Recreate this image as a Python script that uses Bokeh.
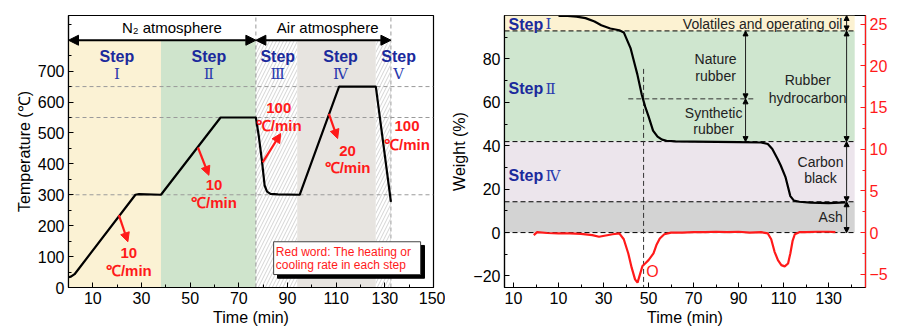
import math
from bokeh.plotting import figure
from bokeh.models import Range1d, LinearAxis, FixedTicker, Label, Arrow, NormalHead
from bokeh.layouts import row
from bokeh.embed import file_html
from bokeh.resources import INLINE

SANS = "Liberation Sans"
SERIF = "DejaVu Serif"
NAVY = "#1b2a9c"
RED = "#ff1a1a"

# ---------------- Panel (a) data ----------------
temp_time = [0, 1, 2.5, 27.5, 29, 38, 62.5, 77, 78.2, 79.5, 80.6, 81.6, 83, 86, 95, 111.2, 126.3, 132.5]
temp_val = [33, 35, 43, 300, 302, 300, 550, 550, 490, 410, 330, 310, 303, 301, 300, 650, 650, 277]
step_numerals = ["Ⅰ", "Ⅱ", "Ⅲ", "Ⅳ", "Ⅴ"]
step_edges = [0, 38, 77, 94, 126.3, 132.5]
rate_values = ["10", "10", "100", "20", "100"]
a_xticks = [10, 30, 50, 70, 90, 110, 130, 150]
a_xminor = [0, 20, 40, 60, 80, 100, 120, 140]
a_yticks = [0, 100, 200, 300, 400, 500, 600, 700]
a_yminor = [50, 150, 250, 350, 450, 550, 650, 750, 850]
a_levels = [300, 550, 650]
a_phase_bounds = [77, 132.5]

# ---------------- Panel (b) data ----------------
w_time = [10, 14, 18, 22, 26, 29, 33, 37, 39, 42, 44, 45, 47, 48.5, 50, 52, 54, 56, 58, 62, 70, 80, 90,
          100, 103, 105, 107.3, 108.7, 110.9, 113, 114.6, 117, 122, 130, 137.5]
w_val = [99.8, 99.8, 99.5, 98.8, 97.2, 95.5, 94, 93.2, 92.2, 85, 77, 73, 63.5, 58, 53.5, 47, 44.2, 42.8, 42.3,
         42.0, 41.9, 41.8, 41.7, 41.5, 40.8, 38.5, 34, 31, 25.4, 16.8, 14.7, 14.2, 13.8, 13.6, 13.9]
d_time = [-1, 0.5, 5, 10, 15, 20, 25, 28, 31, 34, 37, 39, 41, 42.5, 44, 45.1, 46.2, 47.3, 48.5, 50, 52.2,
          53.5, 55, 57, 60, 65, 70, 75, 80, 85, 90, 95, 100, 103, 104.5, 106, 107.5, 109, 110.5, 112,
          113, 114, 115, 117, 120, 125, 130, 133]
d_val = [-0.3, 0.05, -0.05, -0.1, -0.1, -0.15, -0.3, -0.5, -0.35, -0.2, -0.1, -0.8, -2.5, -4.2, -5.6, -6.0,
         -5.0, -4.0, -3.7, -3.3, -2.5, -1.5, -0.7, -0.2, 0, 0, 0.05, 0.05, 0.1, 0.05, 0.1, 0.0, 0.05, -0.1,
         -0.8, -2.3, -3.3, -3.9, -4.05, -3.7, -2.5, -1.0, -0.2, 0.05, 0.05, 0.1, 0.1, 0.05]
b_levels = [100, 92.9, 41.9, 14.2, 0]
b_fills = ["#fcf2d2", "#cfe6cf", "#ece5ec", "#d3d3d3"]
b_xticks = [-10, 10, 30, 50, 70, 90, 110, 130]
b_xminor = [0, 20, 40, 60, 80, 100, 120, 140]
b_yticks = [-20, 0, 20, 40, 60, 80]
b_yminor = [-10, 10, 30, 50, 70, 90]
d_ticks = [-5, 0, 5, 10, 15, 20, 25]
d_minor = [-2.5, 2.5, 7.5, 12.5, 17.5, 22.5]


def style_axis(ax, color="black"):
    ax.axis_line_color = color
    ax.axis_line_width = 1.2
    ax.major_tick_line_color = color
    ax.minor_tick_line_color = color
    ax.major_tick_in = 5
    ax.major_tick_out = 0
    ax.minor_tick_in = 3
    ax.minor_tick_out = 0
    ax.major_label_text_font = SANS
    ax.major_label_text_font_size = "16px"
    ax.major_label_text_color = color
    ax.axis_label_text_font = SANS
    ax.axis_label_text_font_size = "16px"
    ax.axis_label_text_font_style = "normal"
    ax.axis_label_text_color = color
    ax.major_label_standoff = 4
    ax.axis_label_standoff = 2


def lab(p, x, y, text, size="14px", color="black", style="normal", font=SANS, align="center", **kw):
    p.add_layout(Label(x=x, y=y, text=text, text_font=font, text_font_size=size, text_color=color,
                       text_font_style=style, text_align=align, text_baseline="middle", **kw))


# ================= Panel (a) =================
p1 = figure(width=445, height=330, x_range=Range1d(0, 150), y_range=Range1d(0, 880),
            output_backend="svg", toolbar_location=None,
            min_border_left=68, min_border_right=12, min_border_top=14, min_border_bottom=42)
p1.grid.visible = False
p1.outline_line_color = "black"
p1.outline_line_width = 1.2
p1.background_fill_color = "white"
p1.border_fill_color = "white"

a_fills = ["#fbf2d4", "#cfe4cc", "#ffffff", "#e7e4e0", "#ffffff"]
a_hatch = [" ", " ", "/", " ", "/"]
for i in range(5):
    p1.quad(left=step_edges[i], right=step_edges[i + 1], bottom=0, top=800, fill_color=a_fills[i],
            line_color=None, hatch_pattern=a_hatch[i], hatch_color="#cfcfcf", hatch_scale=7, hatch_weight=0.9)

for lv in a_levels:
    p1.segment(x0=0, x1=150, y0=lv, y1=lv, line_color="#9a9a9a", line_dash="4 3", line_width=1)
for xb in a_phase_bounds:
    p1.segment(x0=xb, x1=xb, y0=0, y1=880, line_color="#9a9a9a", line_dash="4 3", line_width=1)

p1.line(temp_time, temp_val, line_color="black", line_width=2.2)

# atmosphere arrows
for xs, xe in [(0, 77), (77, 132.5)]:
    p1.add_layout(Arrow(start=NormalHead(size=10, fill_color="black", line_color="black"),
                        end=NormalHead(size=10, fill_color="black", line_color="black"),
                        x_start=xs, y_start=800, x_end=xe, y_end=800, line_width=2, line_color="black"))
lab(p1, 42.5, 841, "N\u2082 atmosphere", size="15px")
lab(p1, 106.5, 840, "Air atmosphere", size="15px")
lab(p1, -17.9, 838, "(a)", size="17px", style="bold")

# step labels
step_cx = [19.9, 57.7, 86.0, 111.8, 135.7]
for i in range(5):
    lab(p1, step_cx[i], 748, "Step", size="16px", color=NAVY, style="bold")
    lab(p1, step_cx[i], 690, step_numerals[i], size="15px", color="#2a3aae", font=SERIF)

# rate arrows
rate_arrows = [(20.7, 234, 24.4, 148), (53.2, 453, 57.7, 363), (79.8, 405, 87.2, 498), (107.0, 562, 110.6, 482)]
for xs, ys, xe, ye in rate_arrows:
    p1.add_layout(Arrow(end=NormalHead(size=9, fill_color=RED, line_color=RED),
                        x_start=xs, y_start=ys, x_end=xe, y_end=ye, line_color=RED, line_width=2.2))
rate_x = [24.8, 59.8, 86.4, 114.7, 139.1]
rate_num_y = [112, 331, 581, 443, 523]
rate_unit_y = [55, 276, 523, 389, 462]
for i in range(5):
    lab(p1, rate_x[i], rate_num_y[i], rate_values[i], size="15px", color=RED, style="bold")
    lab(p1, rate_x[i], rate_unit_y[i], "\u2103/min", size="15px", color=RED, style="bold")

# note box with shadow
p1.quad(left=85.9, right=146.3, top=136, bottom=30, fill_color="black", line_color="black")
p1.quad(left=84.3, right=144.7, top=148, bottom=42, fill_color="white", line_color="#444444", line_width=1)
lab(p1, 85.2, 116, "Red word: The heating or", size="12px", color=RED, align="left")
lab(p1, 85.2, 74, "cooling rate in each step", size="12px", color=RED, align="left")

p1.xaxis.ticker = FixedTicker(ticks=a_xticks, minor_ticks=a_xminor)
p1.yaxis.ticker = FixedTicker(ticks=a_yticks, minor_ticks=a_yminor)
p1.xaxis.axis_label = "Time (min)"
p1.yaxis.axis_label = "Temperature (\u2103)"
style_axis(p1.xaxis[0])
style_axis(p1.yaxis[0])

# ================= Panel (b) =================
p2 = figure(width=464, height=330, x_range=Range1d(-14, 146.4), y_range=Range1d(-25.3, 100),
            output_backend="svg", toolbar_location=None,
            min_border_left=59, min_border_right=44, min_border_top=15, min_border_bottom=43)
p2.grid.visible = False
p2.outline_line_color = "black"
p2.outline_line_width = 1.2
p2.extra_y_ranges = {"dtg": Range1d(-6.58, 26.02)}

for i in range(4):
    p2.quad(left=-14, right=141.6, top=b_levels[i], bottom=b_levels[i + 1], fill_color=b_fills[i], line_color=None)
for lv in b_levels[1:]:
    p2.segment(x0=-14, x1=141.6, y0=lv, y1=lv, line_color="black", line_dash="5 3", line_width=1)
p2.segment(x0=47.8, x1=47.8, y0=75.4, y1=-25.3, line_color="#333333", line_dash="5 3", line_width=1)
p2.segment(x0=41, x1=97.5, y0=61.6, y1=61.6, line_color="#333333", line_dash="5 3", line_width=1)

p2.line(w_time, w_val, line_color="black", line_width=2.2)
p2.line(d_time, d_val, line_color=RED, line_width=2.2, y_range_name="dtg")

# double-headed brackets
brackets = [(93.1, 92.9, 61.6), (93.1, 61.6, 41.9), (138, 100, 92.9), (138, 92.9, 41.9), (138, 41.9, 14.2), (138, 14.2, 0)]
for xb, y0, y1 in brackets:
    p2.add_layout(Arrow(start=NormalHead(size=5, fill_color="black", line_color="black"),
                        end=NormalHead(size=5, fill_color="black", line_color="black"),
                        x_start=xb, y_start=y0, x_end=xb, y_end=y1, line_width=1, line_color="#222222"))

TXT = "#222222"
lab(p2, 100.7, 96.1, "Volatiles and operating oil", size="14px", color=TXT)
lab(p2, 79.8, 80.0, "Nature", size="14px", color=TXT)
lab(p2, 79.8, 72.2, "rubber", size="14px", color=TXT)
lab(p2, 78.9, 55.2, "Synthetic", size="14px", color=TXT)
lab(p2, 78.9, 47.8, "rubber", size="14px", color=TXT)
lab(p2, 120.7, 70.3, "Rubber", size="14px", color=TXT)
lab(p2, 120.7, 62.1, "hydrocarbon", size="14px", color=TXT)
lab(p2, 126.4, 32.6, "Carbon", size="14px", color=TXT)
lab(p2, 126.4, 25.3, "black", size="14px", color=TXT)
lab(p2, 130.9, 7.4, "Ash", size="14px", color=TXT)
lab(p2, 51.8, -17.9, "O", size="16px", color=RED)
lab(p2, -30.4, 95.2, "(b)", size="17px", style="bold")

for ys, num in [(96.0, "Ⅰ"), (66.2, "Ⅱ"), (26.2, "Ⅳ")]:
    lab(p2, -12.2, ys, "Step", size="16px", color=NAVY, style="bold", align="left")
    lab(p2, 4.2, ys, num, size="15px", color="#2a3aae", font=SERIF, align="left")

p2.xaxis.ticker = FixedTicker(ticks=b_xticks, minor_ticks=b_xminor)
p2.xaxis.major_label_overrides = {-10: "10"}
p2.yaxis.ticker = FixedTicker(ticks=b_yticks, minor_ticks=b_yminor)
p2.xaxis.axis_label = "Time (min)"
p2.yaxis.axis_label = "Weight (%)"
style_axis(p2.xaxis[0])
style_axis(p2.yaxis[0])

rax = LinearAxis(y_range_name="dtg", ticker=FixedTicker(ticks=d_ticks, minor_ticks=d_minor))
style_axis(rax, color=RED)
p2.add_layout(rax, "right")
# right-axis title reading bottom-to-top, as in the reference
lab(p2, 161.9, 37.7, "Derivative weight", size="15px", color=RED, angle=math.pi / 2)

layout = row(p1, p2)
open("out.html", "w").write(file_html(layout, INLINE))
